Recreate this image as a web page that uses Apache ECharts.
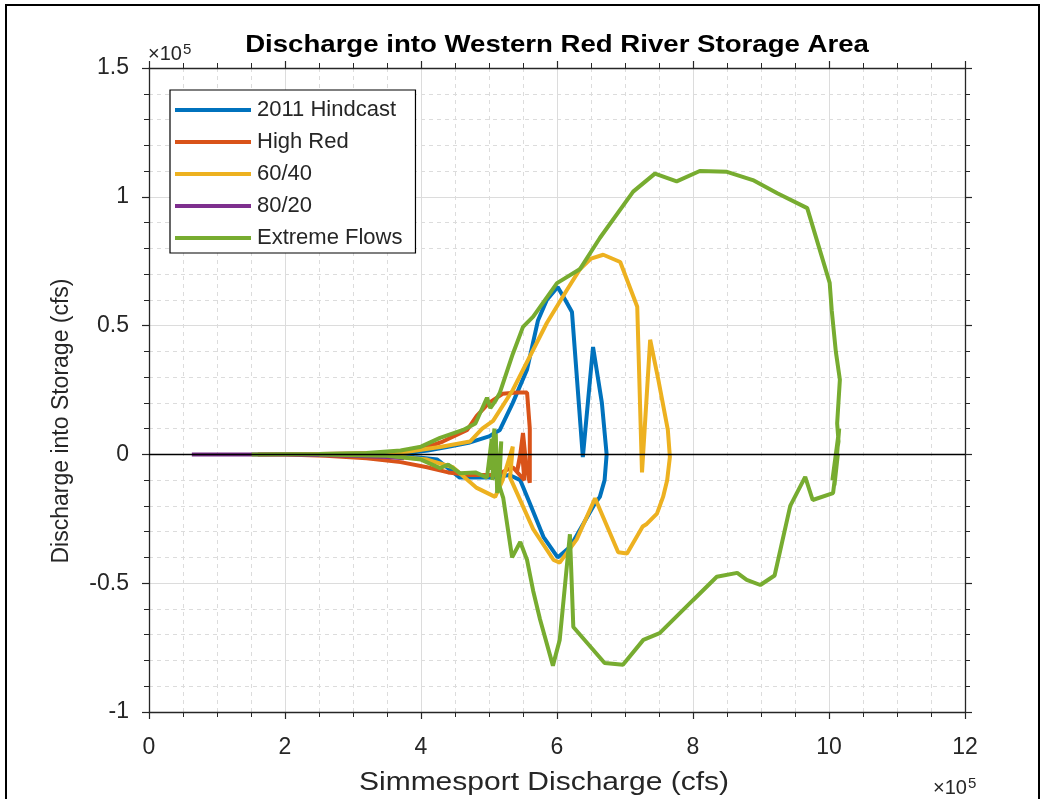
<!DOCTYPE html>
<html>
<head>
<meta charset="utf-8">
<script src="https://cdn.jsdelivr.net/npm/echarts@6/dist/echarts.min.js"></script>
<style>
  html, body { margin: 0; padding: 0; background: #fff; overflow: hidden; }
  #frame {
    position: absolute; left: 5px; top: 4px; width: 1035px; height: 820px;
    border: 2px solid #000; box-sizing: border-box;
  }
  #chart { position: absolute; left: 0; top: 0; width: 1052px; height: 799px; }
</style>
</head>
<body>
<div id="frame"></div>
<div id="chart"></div>
<script>
// values in units of 1e5 cfs
const seriesNames = ['2011 Hindcast', 'High Red', '60/40', '80/20', 'Extreme Flows'];
const seriesColors = ['#0072BD', '#D95319', '#EDB120', '#7E2F8E', '#77AC30'];

const hindcastX = [3.5, 3.8, 4.1, 4.4, 4.7, 5.0, 5.16, 5.35, 5.56, 5.72, 5.85, 6.01, 6.12, 6.22, 6.38, 6.53, 6.66, 6.73, 6.7, 6.63, 6.56, 6.19, 6.01, 5.8, 5.6, 5.46, 5.3, 5.06, 4.8, 4.57, 4.24, 3.9, 3.6];
const hindcastY = [0, 0.005, 0.015, 0.03, 0.045, 0.07, 0.095, 0.2, 0.33, 0.52, 0.6, 0.65, 0.6, 0.553, -0.01, 0.417, 0.2, 0.0, -0.1, -0.165, -0.19, -0.36, -0.40, -0.32, -0.19, -0.10, -0.08, -0.09, -0.09, -0.09, -0.02, -0.01, 0];

const highRedX = [1.6, 2.5, 3.5, 4.0, 4.32, 4.68, 4.82, 5.0, 5.2, 5.41, 5.56, 5.6, 5.6, 5.55, 5.5, 5.45, 5.41, 5.48, 5.52, 5.35, 5.1, 4.72, 4.4, 4.09, 3.7, 3.2, 2.6, 2.0];
const highRedY = [0, 0.002, 0.005, 0.02, 0.05, 0.095, 0.15, 0.2, 0.235, 0.24, 0.24, 0.1, -0.11, -0.05, 0.083, -0.02, -0.07, 0.03, -0.1, -0.05, -0.08, -0.08, -0.07, -0.05, -0.03, -0.015, -0.005, 0];

const r6040X = [3.0, 3.8, 4.3, 4.72, 4.9, 5.06, 5.35, 5.6, 5.85, 6.15, 6.34, 6.5, 6.68, 6.93, 7.18, 7.25, 7.37, 7.49, 7.63, 7.66, 7.62, 7.56, 7.47, 7.32, 7.26, 7.03, 6.9, 6.56, 6.29, 6.04, 5.95, 5.65, 5.31, 5.35, 5.2, 5.09, 4.82, 4.47, 4.09, 3.5, 3.0];
const r6040Y = [0, 0.01, 0.03, 0.05, 0.1, 0.13, 0.25, 0.38, 0.51, 0.64, 0.72, 0.76, 0.775, 0.747, 0.573, -0.07, 0.445, 0.29, 0.095, -0.01, -0.1, -0.165, -0.23, -0.27, -0.28, -0.385, -0.38, -0.17, -0.33, -0.42, -0.41, -0.29, -0.09, 0.03, -0.1, -0.165, -0.13, -0.05, -0.02, -0.005, 0];

const r8020X = [0.63, 1.0, 1.5, 2.0, 2.5, 3.0, 3.5, 3.75, 3.6, 3.2, 2.5];
const r8020Y = [0, 0, 0, 0, -0.002, -0.005, -0.01, -0.015, -0.01, -0.003, 0];

const extremeX = [1.51, 2.5, 3.2, 3.7, 4.0, 4.28, 4.62, 4.8, 4.97, 5.02, 5.1, 5.16, 5.35, 5.5, 5.65, 6.0, 6.34, 6.63, 7.12, 7.44, 7.76, 8.1, 8.5, 8.88, 9.24, 9.68, 10.01, 10.04, 10.1, 10.16, 10.12, 10.14, 10.05, 10.15, 10.08, 10.13, 10.06, 9.76, 9.65, 9.43, 9.2, 8.99, 8.79, 8.65, 8.35, 8.0, 7.51, 7.27, 6.97, 6.7, 6.24, 6.19, 6.04, 5.94, 5.75, 5.65, 5.56, 5.46, 5.34, 5.21, 5.15, 5.18, 5.12, 5.1, 5.05, 5.08, 5.02, 5.04, 4.97, 4.8, 4.57, 4.4, 4.28, 4.0, 3.5, 2.5];
const extremeY = [0, 0.002, 0.005, 0.015, 0.03, 0.064, 0.095, 0.12, 0.22, 0.18, 0.21, 0.24, 0.39, 0.495, 0.535, 0.665, 0.72, 0.84, 1.02, 1.09, 1.06, 1.1, 1.097, 1.065, 1.014, 0.956, 0.666, 0.56, 0.4, 0.29, 0.12, 0.05, -0.1, 0.1, -0.12, 0.0, -0.15, -0.177, -0.087, -0.2, -0.47, -0.507, -0.487, -0.46, -0.475, -0.566, -0.694, -0.72, -0.817, -0.81, -0.67, -0.31, -0.72, -0.82, -0.64, -0.53, -0.41, -0.34, -0.40, -0.17, -0.12, 0.05, -0.15, 0.08, -0.1, 0.1, -0.06, 0.06, -0.09, -0.07, -0.073, -0.04, -0.053, -0.02, -0.005, 0];

const xTicks = [0, 2, 4, 6, 8, 10, 12];
const yTicks = [-1, -0.5, 0, 0.5, 1, 1.5];

const allX = [hindcastX, highRedX, r6040X, r8020X, extremeX];
const allY = [hindcastY, highRedY, r6040Y, r8020Y, extremeY];

const font = 'Liberation Sans, Arial, Helvetica, sans-serif';
const ink = '#262626';

const chart = echarts.init(document.getElementById('chart'));

const lineSeries = seriesNames.map((name, i) => ({
  name: name,
  type: 'line',
  data: allX[i].map((x, k) => [x, allY[i][k]]),
  symbol: 'none',
  smooth: false,
  lineStyle: {color: seriesColors[i], width: 4},
  itemStyle: {color: seriesColors[i]},
  z: 2 + i,
  animation: false
}));

// black zero line drawn over the curves
lineSeries.push({
  name: 'zero',
  type: 'line',
  data: [[xTicks[0], 0], [xTicks[xTicks.length - 1], 0]],
  symbol: 'none',
  silent: true,
  lineStyle: {color: '#000', width: 1.5},
  z: 10,
  animation: false
});

const baseAxis = {
  min: xTicks[0],
  max: xTicks[xTicks.length - 1],
  interval: 2,
  axisLine: {show: true, onZero: false, lineStyle: {color: ink, width: 1.3}},
  axisTick: {show: true, inside: false, length: 7, lineStyle: {color: ink, width: 1.2}},
  minorTick: {show: true, splitNumber: 4, length: 5, lineStyle: {color: ink, width: 1}},
};

const yAxisBase = Object.assign({}, baseAxis, {
  type: 'value',
  min: yTicks[0],
  max: yTicks[yTicks.length - 1],
  interval: 0.5,
  minorTick: {show: true, splitNumber: 5, length: 5, lineStyle: {color: ink, width: 1}}
});

const tenToFive = (x, y) => ({
  type: 'text', x: x, y: y,
  style: {
    text: '×10{s|5}',
    fontFamily: font, fontSize: 20, fill: ink,
    align: 'left', verticalAlign: 'bottom',
    rich: {s: {fontFamily: font, fontSize: 15, fill: ink, verticalAlign: 'top', padding: [0, 0, 10, 1]}}
  }
});

chart.setOption({
  animation: false,
  textStyle: {fontFamily: font},
  grid: {left: 149, right: 87, top: 68, bottom: 87, containLabel: false},
  legend: {
    data: seriesNames,
    orient: 'vertical',
    left: 170,
    top: 90,
    padding: [9, 13, 4, 5],
    itemGap: 10,
    itemWidth: 76,
    itemHeight: 4,
    icon: 'rect',
    backgroundColor: '#fff',
    borderColor: '#000',
    borderWidth: 1.2,
    textStyle: {fontFamily: font, fontSize: 22, color: ink, lineHeight: 20, padding: [0, 0, 0, 1]}
  },
  xAxis: [
    Object.assign({}, baseAxis, {
      type: 'value',
      position: 'bottom',
      axisLabel: {margin: 24, fontFamily: font, fontSize: 23, color: ink},
      splitLine: {show: true, lineStyle: {color: '#dcdcdc', width: 1}},
      minorSplitLine: {show: true, lineStyle: {color: '#dcdcdc', width: 1, type: [4, 4]}}
    }),
    Object.assign({}, baseAxis, {
      type: 'value',
      position: 'top',
      axisLabel: {show: false},
      splitLine: {show: false}
    })
  ],
  yAxis: [
    Object.assign({}, yAxisBase, {
      position: 'left',
      axisLabel: {margin: 20, fontFamily: font, fontSize: 23, color: ink},
      splitLine: {show: true, lineStyle: {color: '#dcdcdc', width: 1}},
      minorSplitLine: {show: true, lineStyle: {color: '#dcdcdc', width: 1, type: [4, 4]}}
    }),
    Object.assign({}, yAxisBase, {
      position: 'right',
      axisLabel: {show: false},
      splitLine: {show: false}
    })
  ],
  graphic: [
    {
      type: 'text', x: 557, y: 45, scaleX: 1.15,
      style: {
        text: 'Discharge into Western Red River Storage Area',
        fontFamily: font, fontSize: 24, fontWeight: 'bold', fill: '#000',
        align: 'center', verticalAlign: 'middle'
      }
    },
    {
      type: 'text', x: 544, y: 783, scaleX: 1.2,
      style: {
        text: 'Simmesport Discharge (cfs)',
        fontFamily: font, fontSize: 25, fill: ink,
        align: 'center', verticalAlign: 'middle'
      }
    },
    {
      type: 'text', x: 62, y: 421, rotation: Math.PI / 2,
      style: {
        text: 'Discharge into Storage (cfs)',
        fontFamily: font, fontSize: 23, fill: ink,
        align: 'center', verticalAlign: 'middle'
      }
    },
    tenToFive(148, 67),
    tenToFive(933, 801)
  ],
  series: lineSeries
});
</script>
</body>
</html>
